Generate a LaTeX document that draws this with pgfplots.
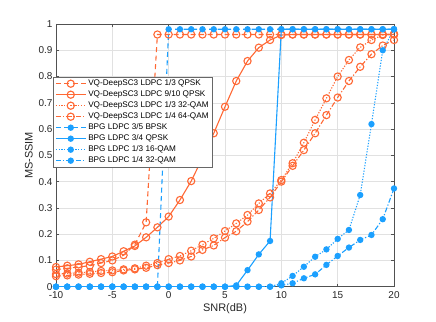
\documentclass[border=0pt]{standalone}
\usepackage{fontspec}
\setmainfont{Liberation Sans}
\usepackage{pgfplots}
\pgfplotsset{compat=1.18}
\definecolor{vqor}{RGB}{255,104,52}
\definecolor{bpgbl}{RGB}{27,160,255}
\definecolor{axgray}{RGB}{38,38,38}
\definecolor{gridgray}{RGB}{225,225,225}
\begin{document}
\begin{tikzpicture}
\useasboundingbox (-56bp,-35.3bp) rectangle (380bp,286.7bp);
\begin{axis}[
    scale only axis,
    width=338bp, height=262.7bp,
    xmin=-10, xmax=20, ymin=0, ymax=1,
    xtick={-10,-5,...,20},
    ytick={0,0.1,...,1},
    yticklabels={0,0.1,0.2,0.3,0.4,0.5,0.6,0.7,0.8,0.9,1},
    /pgf/number format/assume math mode=true,
    ticklabel style={font=\fontsize{10}{12}\selectfont, text=axgray},
    xticklabel style={yshift=-1.5bp},
    label style={font=\fontsize{11}{13}\selectfont, text=axgray},
    xlabel={SNR(dB)}, ylabel={MS-SSIM},
    xlabel style={yshift=2.5bp},
    ylabel style={yshift=-1bp},
    grid=major,
    major grid style={gridgray, line width=0.5bp},
    axis line style={axgray!80, line width=0.5bp},
    tick align=inside, tick style={axgray!80, line width=0.5bp},
    major tick length=3bp,
    every axis plot/.append style={line width=1.1bp},
    legend style={at={(-0.009,0.80)}, anchor=north west, draw=axgray!70,
        line width=0.5bp, fill=white, font=\fontsize{8.2}{9.5}\selectfont,
        inner xsep=2bp, inner ysep=1.2bp, row sep=-0.4bp},
    legend cell align=left,
    legend image code/.code={\draw[mark repeat=2,mark phase=2] plot coordinates {(0bp,0bp)(15bp,0bp)(30bp,0bp)};},
]
% VQ-DeepSC3 LDPC 1/3 QPSK
\addplot[vqor, dash pattern=on 5bp off 3.5bp, mark=o, mark size=3.6bp, mark options={solid}] coordinates {
(-10,0.065)(-9,0.07)(-8,0.075)(-7,0.08)(-6,0.09)(-5,0.10)(-4,0.12)(-3,0.16)(-2,0.245)
(-1,0.96)(0,0.96)(1,0.96)(2,0.96)(3,0.96)(4,0.96)(5,0.96)(6,0.96)(7,0.96)(8,0.96)(9,0.96)
(10,0.96)(11,0.96)(12,0.96)(13,0.96)(14,0.96)(15,0.96)(16,0.96)(17,0.96)(18,0.96)(19,0.96)(20,0.96)};
\addlegendentry{VQ-DeepSC3 LDPC 1/3 QPSK}
% VQ-DeepSC3 LDPC 9/10 QPSK
\addplot[vqor, solid, mark=o, mark size=3.6bp] coordinates {
(-10,0.075)(-9,0.08)(-8,0.085)(-7,0.095)(-6,0.105)(-5,0.115)(-4,0.135)(-3,0.155)(-2,0.188)
(-1,0.226)(0,0.267)(1,0.33)(2,0.402)(3,0.49)(4,0.584)(5,0.685)(6,0.783)(7,0.859)(8,0.91)(9,0.939)
(10,0.958)(11,0.96)(12,0.96)(13,0.96)(14,0.96)(15,0.96)(16,0.96)(17,0.96)(18,0.96)(19,0.96)(20,0.96)};
\addlegendentry{VQ-DeepSC3 LDPC 9/10 QPSK}
% VQ-DeepSC3 LDPC 1/3 32-QAM
\addplot[vqor, dash pattern=on 1.2bp off 1.6bp, mark=o, mark size=3.6bp, mark options={solid}] coordinates {
(-10,0.048)(-9,0.05)(-8,0.053)(-7,0.056)(-6,0.06)(-5,0.062)(-4,0.066)(-3,0.07)(-2,0.08)
(-1,0.09)(0,0.105)(1,0.117)(2,0.137)(3,0.16)(4,0.184)(5,0.212)(6,0.241)(7,0.273)(8,0.317)(9,0.355)
(10,0.406)(11,0.47)(12,0.548)(13,0.635)(14,0.717)(15,0.80)(16,0.863)(17,0.911)(18,0.939)(19,0.958)(20,0.962)};
\addlegendentry{VQ-DeepSC3 LDPC 1/3 32-QAM}
% VQ-DeepSC3 LDPC 1/4 64-QAM
\addplot[vqor, dash pattern=on 5bp off 2bp on 1.2bp off 2bp, mark=o, mark size=3.6bp, mark options={solid}] coordinates {
(-10,0.04)(-9,0.043)(-8,0.046)(-7,0.049)(-6,0.052)(-5,0.055)(-4,0.062)(-3,0.066)(-2,0.072)
(-1,0.082)(0,0.09)(1,0.10)(2,0.115)(3,0.14)(4,0.157)(5,0.187)(6,0.211)(7,0.248)(8,0.292)(9,0.34)
(10,0.40)(11,0.46)(12,0.52)(13,0.584)(14,0.653)(15,0.72)(16,0.783)(17,0.837)(18,0.885)(19,0.918)(20,0.939)};
\addlegendentry{VQ-DeepSC3 LDPC 1/4 64-QAM}
% BPG LDPC 3/5 BPSK
\addplot[bpgbl, dash pattern=on 5bp off 3.5bp, mark=*, mark size=2.6bp, mark options={solid}] coordinates {
(-10,0)(-9,0)(-8,0)(-7,0)(-6,0)(-5,0)(-4,0)(-3,0)(-2,0)(-1,0)
(0,0.98)(1,0.98)(2,0.98)(3,0.98)(4,0.98)(5,0.98)(6,0.98)(7,0.98)(8,0.98)(9,0.98)
(10,0.98)(11,0.98)(12,0.98)(13,0.98)(14,0.98)(15,0.98)(16,0.98)(17,0.98)(18,0.98)(19,0.98)(20,0.98)};
\addlegendentry{BPG LDPC 3/5 BPSK}
% BPG LDPC 3/4 QPSK
\addplot[bpgbl, solid, mark=*, mark size=2.6bp] coordinates {
(-10,0)(-9,0)(-8,0)(-7,0)(-6,0)(-5,0)(-4,0)(-3,0)(-2,0)(-1,0)
(0,0)(1,0)(2,0)(3,0)(4,0)(5,0)(6,0.005)(7,0.063)(8,0.123)(9,0.174)
(10,0.98)(11,0.98)(12,0.98)(13,0.98)(14,0.98)(15,0.98)(16,0.98)(17,0.98)(18,0.98)(19,0.98)(20,0.98)};
\addlegendentry{BPG LDPC 3/4 QPSK}
% BPG LDPC 1/3 16-QAM
\addplot[bpgbl, dash pattern=on 1.2bp off 1.6bp, mark=*, mark size=2.6bp, mark options={solid}] coordinates {
(-10,0)(-9,0)(-8,0)(-7,0)(-6,0)(-5,0)(-4,0)(-3,0)(-2,0)(-1,0)
(0,0)(1,0)(2,0)(3,0)(4,0)(5,0)(6,0)(7,0)(8,0)(9,0)
(10,0.013)(11,0.041)(12,0.076)(13,0.114)(14,0.142)(15,0.182)(16,0.216)(17,0.349)(18,0.619)(19,0.90)(20,0.98)};
\addlegendentry{BPG LDPC 1/3 16-QAM}
% BPG LDPC 1/4 32-QAM
\addplot[bpgbl, dash pattern=on 5bp off 2bp on 1.2bp off 2bp, mark=*, mark size=2.6bp, mark options={solid}] coordinates {
(-10,0)(-9,0)(-8,0)(-7,0)(-6,0)(-5,0)(-4,0)(-3,0)(-2,0)(-1,0)
(0,0)(1,0)(2,0)(3,0)(4,0)(5,0)(6,0)(7,0)(8,0)(9,0)
(10,0.005)(11,0.013)(12,0.032)(13,0.047)(14,0.083)(15,0.117)(16,0.149)(17,0.178)(18,0.197)(19,0.257)(20,0.374)};
\addlegendentry{BPG LDPC 1/4 32-QAM}
\end{axis}
\end{tikzpicture}
\end{document}
